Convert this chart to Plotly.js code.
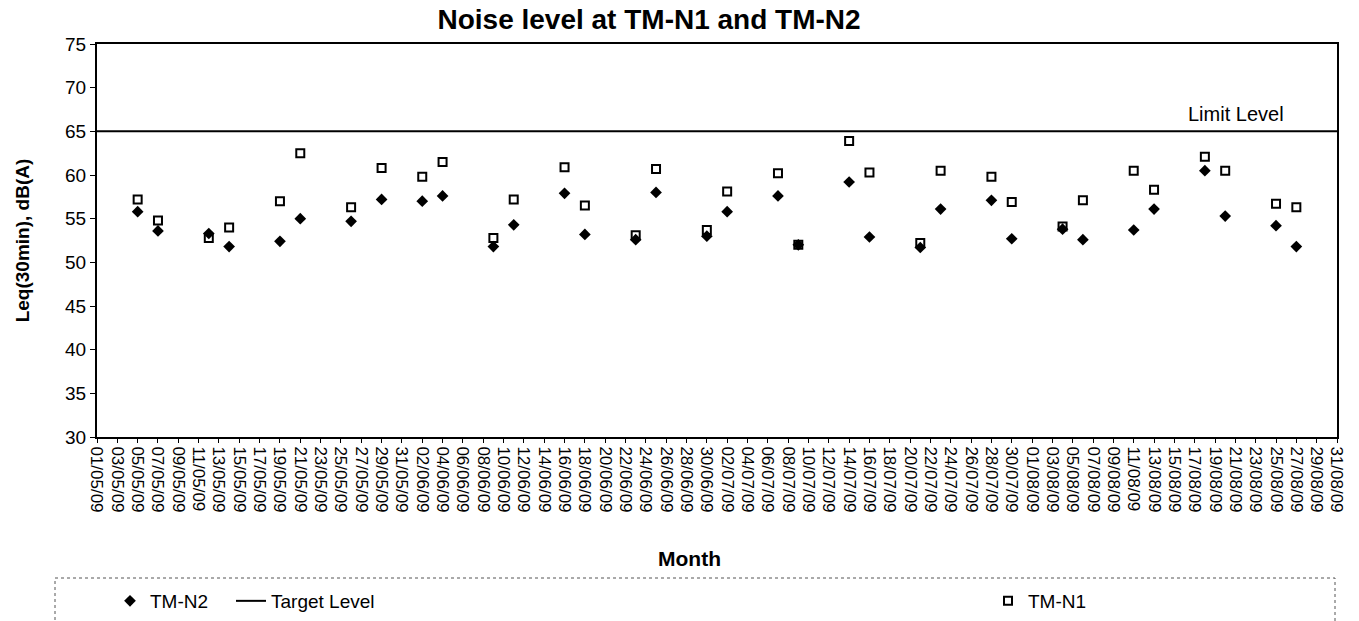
<!DOCTYPE html>
<html>
<head>
<meta charset="utf-8">
<script src="https://cdn.plot.ly/plotly-3.0.1.min.js"></script>
<style>
html,body{margin:0;padding:0;background:#fff;}
#chart{width:1359px;height:621px;}
</style>
</head>
<body>
<div id="chart"></div>
<script>
// Measurement dates
const dates = [
  '2009-05-05','2009-05-07','2009-05-12','2009-05-14','2009-05-19','2009-05-21','2009-05-26','2009-05-29',
  '2009-06-02','2009-06-04','2009-06-09','2009-06-11','2009-06-16','2009-06-18','2009-06-23','2009-06-25','2009-06-30',
  '2009-07-02','2009-07-07','2009-07-09','2009-07-14','2009-07-16','2009-07-21','2009-07-23','2009-07-28','2009-07-30',
  '2009-08-04','2009-08-06','2009-08-11','2009-08-13','2009-08-18','2009-08-20','2009-08-25','2009-08-27'
];
// TM-N1 (open squares)
const tmN1 = [
  57.2, 54.8, 52.8, 54.0, 57.0, 62.5, 56.3, 60.8,
  59.8, 61.5, 52.8, 57.2, 60.9, 56.5, 53.1, 60.7, 53.7,
  58.1, 60.2, 52.0, 63.9, 60.3, 52.2, 60.5, 59.8, 56.9,
  54.1, 57.1, 60.5, 58.3, 62.1, 60.5, 56.7, 56.3
];
// TM-N2 (filled diamonds)
const tmN2 = [
  55.8, 53.6, 53.3, 51.8, 52.4, 55.0, 54.7, 57.2,
  57.0, 57.6, 51.8, 54.3, 57.9, 53.2, 52.6, 58.0, 53.0,
  55.8, 57.6, 52.0, 59.2, 52.9, 51.7, 56.1, 57.1, 52.7,
  53.8, 52.6, 53.7, 56.1, 60.5, 55.3, 54.2, 51.8
];
// Target / limit level line
const limitDates = ['2009-05-01', '2009-08-31'];
const limitLevel = [65, 65];

const FONT = 'Liberation Sans, Arial, sans-serif';

const traces = [
  {
    type: 'scatter', mode: 'markers', name: 'TM-N1',
    x: dates, y: tmN1,
    marker: {symbol: 'square', size: 8, color: '#ffffff', line: {color: '#000000', width: 2}},
    legend: 'legend3', showlegend: true
  },
  {
    type: 'scatter', mode: 'markers', name: 'TM-N2',
    x: dates, y: tmN2,
    marker: {symbol: 'diamond', size: 9, color: '#000000', line: {width: 0}},
    legend: 'legend', showlegend: true
  },
  {
    type: 'scatter', mode: 'lines', name: 'Target Level',
    x: limitDates, y: limitLevel,
    line: {color: '#000000', width: 2},
    legend: 'legend2', showlegend: true
  }
];

const legendCommon = {
  orientation: 'h', xref: 'paper', yref: 'paper', yanchor: 'top', xanchor: 'left',
  bgcolor: 'rgba(0,0,0,0)', borderwidth: 0,
  font: {family: FONT, size: 19, color: '#000'}
};
const legendY = (437 - 582) / 393;

const layout = {
  width: 1359, height: 621,
  margin: {l: 97, r: 22, t: 44, b: 184, autoexpand: false},
  paper_bgcolor: '#ffffff', plot_bgcolor: '#ffffff',
  font: {family: FONT, color: '#000'},
  showlegend: true,
  title: {
    text: '<b>Noise level at TM-N1 and TM-N2</b>',
    font: {family: FONT, size: 28, color: '#000'},
    x: 0.4776, xanchor: 'center', xref: 'container',
    y: 0.969, yanchor: 'middle', yref: 'container'
  },
  xaxis: {
    type: 'date',
    range: ['2009-05-01', '2009-08-31'],
    tick0: '2009-05-01', dtick: 2 * 86400000,
    tickformat: '%d/%m/%y', tickangle: 90,
    tickfont: {family: FONT, size: 17, color: '#000'},
    ticks: 'outside', ticklen: 4, tickcolor: '#000', tickwidth: 1,
    showline: true, linecolor: '#000', linewidth: 2, mirror: true,
    showgrid: false, zeroline: false, automargin: false, fixedrange: true
  },
  yaxis: {
    range: [30, 75], dtick: 5, tick0: 30,
    tickfont: {family: FONT, size: 19, color: '#000'},
    ticks: 'outside', ticklen: 5, tickcolor: '#000', tickwidth: 1,
    showline: true, linecolor: '#000', linewidth: 2, mirror: true,
    showgrid: false, zeroline: false, automargin: false, fixedrange: true,
    title: {text: '<b>Leq(30min), dB(A)</b>', font: {family: FONT, size: 19, color: '#000'}, standoff: 30}
  },
  legend:  Object.assign({}, legendCommon, {x: (110 - 97) / 1240, y: legendY}),
  legend2: Object.assign({}, legendCommon, {x: (231 - 97) / 1240, y: legendY}),
  legend3: Object.assign({}, legendCommon, {x: (988 - 97) / 1240, y: legendY}),
  annotations: [
    {
      text: 'Limit Level', xref: 'paper', yref: 'y', x: (1286 - 97) / 1240, y: 67,
      xanchor: 'right', yanchor: 'middle', showarrow: false,
      font: {family: FONT, size: 20, color: '#000'}
    },
    {
      text: '<b>Month</b>', xref: 'paper', yref: 'paper', x: (689 - 97) / 1240, y: (437 - 558) / 393,
      xanchor: 'center', yanchor: 'middle', showarrow: false,
      font: {family: FONT, size: 21, color: '#000'}
    }
  ],
  shapes: [
    {
      type: 'rect', xref: 'paper', yref: 'paper',
      x0: (55 - 97) / 1240, x1: (1335 - 97) / 1240,
      y0: (437 - 578) / 393, y1: (437 - 630) / 393,
      line: {color: '#555', width: 1, dash: 'dot'}, fillcolor: 'rgba(0,0,0,0)', layer: 'below'
    }
  ]
};

Plotly.newPlot('chart', traces, layout, {displayModeBar: false, staticPlot: true});
</script>
</body>
</html>
